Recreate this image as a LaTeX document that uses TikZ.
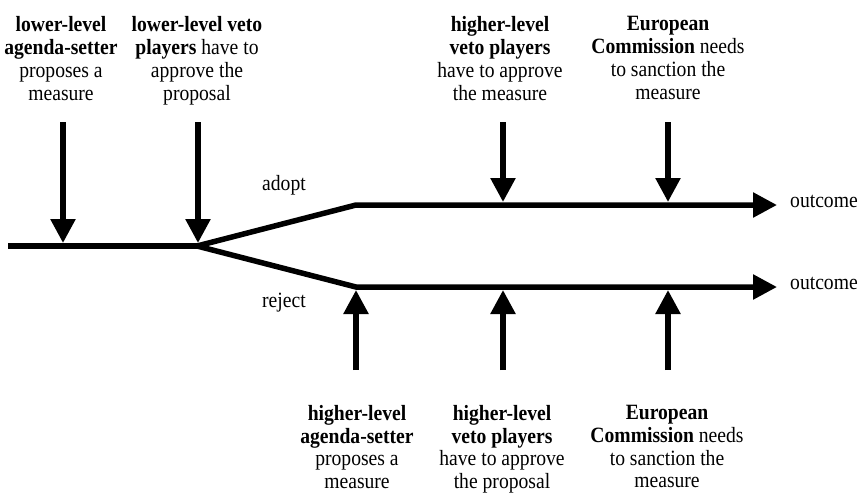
\documentclass[tikz,border=0pt]{standalone}
\usepackage{fontspec}
\setmainfont{Liberation Serif}[FakeStretch=0.9]
\usetikzlibrary{arrows.meta}

\begin{document}
\begin{tikzpicture}[x=1pt,y=-1pt,
  flow/.style={line width=5.5pt},
  push/.style={line width=5.5pt,-{Triangle[length=24pt,width=24pt]}},
  txt/.style={font=\fontsize{21.8}{22.8}\selectfont,inner sep=0pt},
  actor/.style={txt,align=center,anchor=north}]
\useasboundingbox (0,0) rectangle (861,496);

% the decision path
\coordinate (start) at (8,246);
\coordinate (fork) at (197,246);
\coordinate (adoptbend) at (356,205);
\coordinate (rejectbend) at (356,287);
\coordinate (adoptend) at (777,205);
\coordinate (rejectend) at (777,287);

\draw[flow] (start) -- (fork);
\draw[push] (fork) -- (adoptbend) -- (adoptend);
\draw[push] (fork) -- (rejectbend) -- (rejectend);

\node[txt,anchor=base west] (adopt) at (262,190) {adopt};
\node[txt,anchor=base west] (reject) at (262,307) {reject};
\node[txt,anchor=base west] (outA) at (790,207) {outcome};
\node[txt,anchor=base west] (outR) at (790,289) {outcome};

% actors acting from above
\foreach \x/\ytip/\name in {63/243/llas,198/243/llvp,503/202/hlvpA,668/202/ecA}{
  \coordinate (\name-top) at (\x,122);
  \coordinate (\name-tip) at (\x,\ytip);
  \draw[push] (\name-top) -- (\name-tip);
}

% actors acting from below
\foreach \x/\name in {356/hlas,503/hlvpR,668/ecR}{
  \coordinate (\name-bot) at (\x,370);
  \coordinate (\name-tip) at (\x,290);
  \draw[push] (\name-bot) -- (\name-tip);
}

\node[actor] (llas) at (61,16.5)
  {\textbf{lower-level}\\\textbf{agenda-setter}\\proposes a\\measure};
\node[actor] (llvp) at (197,16.5)
  {\textbf{lower-level veto}\\\textbf{players} have to\\approve the\\proposal};
\node[actor] (hlvpA) at (500,16.5)
  {\textbf{higher-level}\\\textbf{veto players}\\have to approve\\the measure};
\node[actor] (ecA) at (668,16.5)
  {\textbf{European}\\\textbf{Commission} needs\\to sanction the\\measure};

\node[actor] (hlas) at (357,405)
  {\textbf{higher-level}\\\textbf{agenda-setter}\\proposes a\\measure};
\node[actor] (hlvpR) at (502,405)
  {\textbf{higher-level}\\\textbf{veto players}\\have to approve\\the proposal};
\node[actor] (ecR) at (667,405)
  {\textbf{European}\\\textbf{Commission} needs\\to sanction the\\measure};

\end{tikzpicture}
\end{document}
